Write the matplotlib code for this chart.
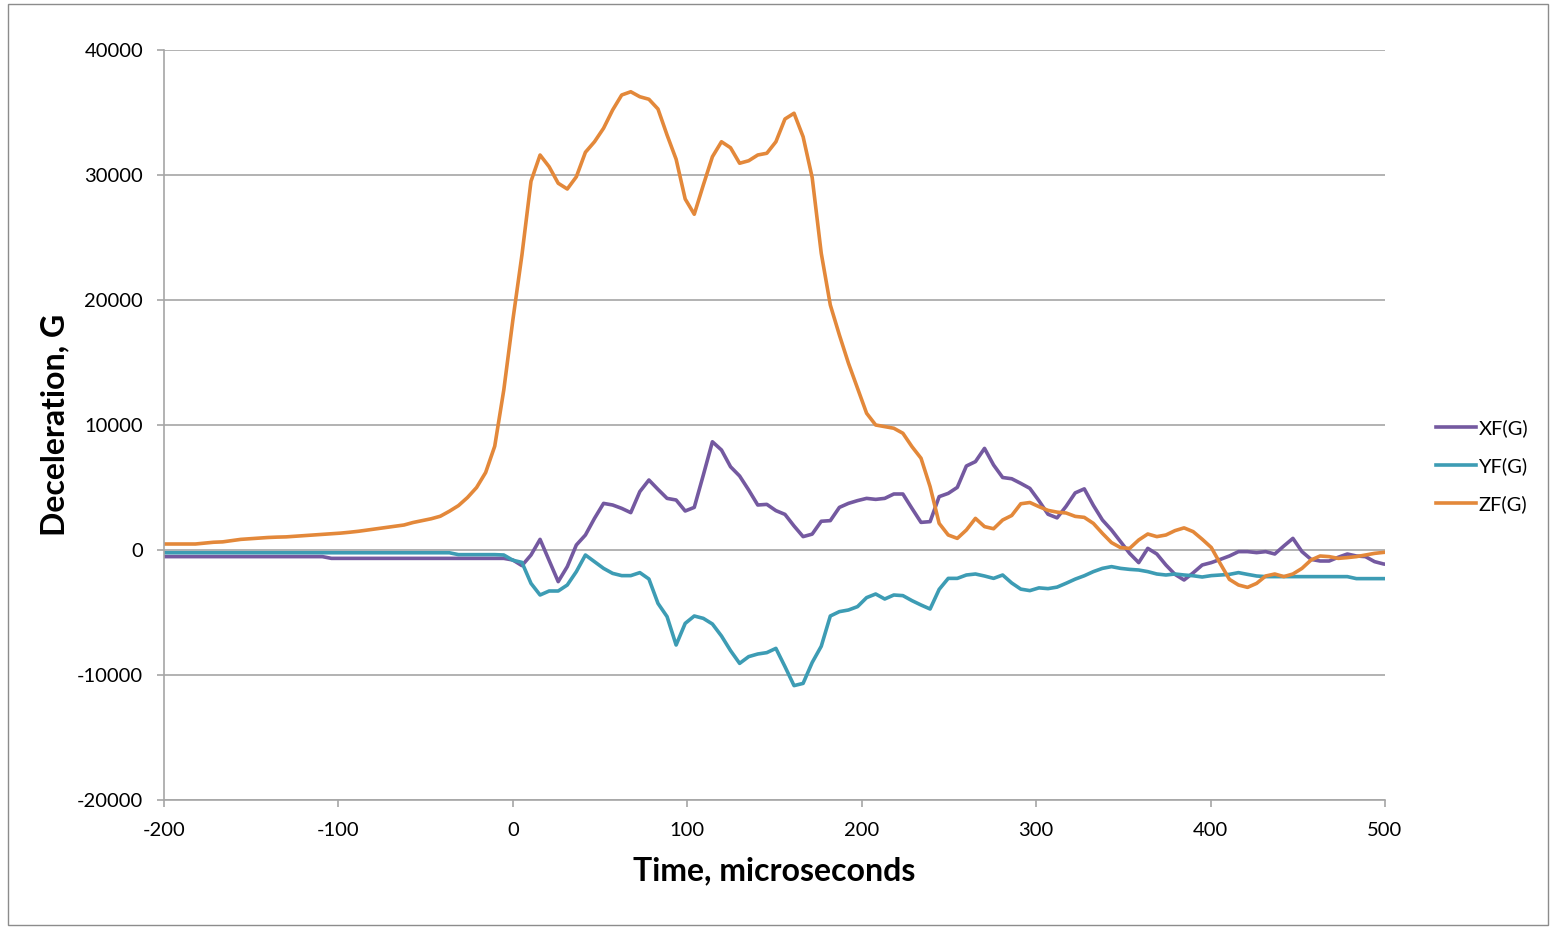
import numpy as np
import matplotlib
matplotlib.use("Agg")
import matplotlib.pyplot as plt
from matplotlib.patches import Rectangle

plt.rcParams["font.family"] = ["Lato", "DejaVu Sans"]
plt.rcParams["axes.unicode_minus"] = False

# Sample index -> time base of the accelerometer record (5.2 us per sample)
SAMPLE_INDEX = np.arange(-39, 98)
SAMPLE_US = 5.2
TIME_US = SAMPLE_INDEX * SAMPLE_US

XF_G = [
    -530, -530, -530, -530, -530, -530, -530, -530, -530, -530,
    -530, -530, -530, -530, -530, -530, -530, -530, -530, -670,
    -670, -670, -670, -670, -670, -670, -670, -670, -670, -670,
    -670, -670, -670, -670, -670, -670, -670, -670, -670,
    # t >= 0
    -800, -1250, -400, 850, -850, -2530, -1330, 400, 1200, 2530,
    3730, 3600, 3330, 2990, 4670, 5600, 4850, 4130, 4000, 3120,
    3410, 6000, 8660, 8000, 6660, 5920, 4800, 3600, 3650, 3150,
    2850, 1920, 1070, 1270, 2300, 2350, 3410, 3730, 3950, 4130,
    4050, 4130, 4480, 4480, 3330, 2210, 2270, 4270, 4530, 5010,
    6720, 7070, 8130, 6800, 5800, 5700, 5330, 4930, 3940, 2860,
    2570, 3500, 4570, 4890, 3570, 2400, 1600, 670, -270, -1010,
    130, -320, -1200, -1950, -2400, -1830, -1200, -1010, -750, -480,
    -130, -130, -210, -130, -320, 320, 930, -130, -750, -880,
    -880, -580, -320, -480, -530, -930, -1120, -1200,
]

YF_G = [
    -220, -220, -220, -220, -220, -220, -220, -220, -220, -220,
    -220, -220, -220, -220, -220, -220, -220, -220, -220, -220,
    -220, -220, -220, -220, -220, -220, -220, -220, -220, -220,
    -220, -220, -220, -370, -370, -370, -370, -370, -400,
    # t >= 0
    -820, -990, -2670, -3600, -3280, -3280, -2800, -1730, -400, -930,
    -1470, -1870, -2050, -2050, -1810, -2320, -4270, -5330, -7600, -5870,
    -5280, -5470, -5920, -6880, -8050, -9070, -8530, -8320, -8210, -7870,
    -9330, -10850, -10670, -9000, -7700, -5280, -4930, -4800, -4530, -3810,
    -3520, -3920, -3600, -3650, -4050, -4400, -4720, -3150, -2270, -2270,
    -2000, -1920, -2080, -2270, -2000, -2640, -3130, -3250, -3030, -3090,
    -2970, -2660, -2330, -2060, -1730, -1470, -1330, -1470, -1550, -1600,
    -1730, -1920, -2000, -1920, -2000, -2060, -2160, -2050, -2000, -1950,
    -1810, -1950, -2080, -2130, -2130, -2130, -2130, -2130, -2130, -2130,
    -2130, -2130, -2130, -2290, -2290, -2290, -2290, -2290,
]

ZF_G = [
    480, 480, 480, 480, 480, 550, 620, 650, 750, 850,
    900, 950, 1000, 1030, 1050, 1100, 1150, 1200, 1250, 1300,
    1350, 1420, 1500, 1600, 1700, 1800, 1900, 2000, 2200, 2350,
    2500, 2700, 3100, 3550, 4200, 5000, 6200, 8300, 12800,
    # t >= 0
    18400, 23600, 29500, 31600, 30660, 29340, 28880, 29860, 31820, 32660,
    33740, 35200, 36400, 36660, 36260, 36060, 35280, 33200, 31260, 28080,
    26860, 29200, 31460, 32660, 32180, 30940, 31140, 31600, 31740, 32660,
    34480, 34940, 33060, 29800, 23740, 19600, 17200, 14940, 12940, 10940,
    10000, 9870, 9740, 9340, 8270, 7340, 5070, 2130, 1200, 930,
    1600, 2530, 1870, 1700, 2400, 2760, 3700, 3800, 3470, 3170,
    3030, 2960, 2690, 2610, 2130, 1330, 590, 190, 130, 800,
    1280, 1070, 1200, 1550, 1770, 1470, 860, 200, -1100, -2350,
    -2800, -2990, -2670, -2080, -1920, -2130, -1920, -1470, -800, -480,
    -530, -670, -610, -530, -400, -270, -190, -130,
]

SERIES = [
    ("XF(G)", XF_G, "#7459a0"),
    ("YF(G)", YF_G, "#3d9cb4"),
    ("ZF(G)", ZF_G, "#e3883a"),
]

X_TICKS = [-200, -100, 0, 100, 200, 300, 400, 500]
Y_TICKS = [-20000, -10000, 0, 10000, 20000, 30000, 40000]

GRID_GRAY = "#a6a6a6"

fig = plt.figure(figsize=(15.52, 9.27), dpi=100)
ax = fig.add_axes([164 / 1552, 1 - 800 / 927, 1221 / 1552, 750 / 927])

for name, values, color in SERIES:
    ax.plot(TIME_US, values, color=color, lw=2.6, label=name,
            solid_joinstyle="round")

ax.set_xlim(-200, 500)
ax.set_ylim(-20000, 40000)
ax.set_xticks(X_TICKS)
ax.set_yticks(Y_TICKS)
ax.yaxis.grid(True, color=GRID_GRAY, lw=1.2)
ax.set_axisbelow(True)

for side in ("top", "right"):
    ax.spines[side].set_visible(False)
for side in ("left", "bottom"):
    ax.spines[side].set_color(GRID_GRAY)
    ax.spines[side].set_linewidth(1.2)

ax.tick_params(axis="both", direction="out", color=GRID_GRAY, width=1.2,
               length=5, labelsize=14.5, labelcolor="black")
ax.tick_params(axis="y", pad=10)
ax.tick_params(axis="x", pad=11)

ax.set_xlabel("Time, microseconds", fontsize=23, fontweight="bold")
ax.xaxis.set_label_coords(0.5, (800 - 871) / 750)
ax.xaxis.label.set_verticalalignment("center")
ax.set_ylabel("Deceleration, G", fontsize=23, fontweight="bold")
ax.yaxis.set_label_coords((55 - 164) / 1221, 0.5)
ax.yaxis.label.set_verticalalignment("center")

fig.legend(loc="center left", bbox_to_anchor=(1418 / 1552, 1 - 466 / 927),
           frameon=False, fontsize=14.5, handlelength=2.0, handletextpad=0.1,
           labelspacing=1.0)

# thin chart-area border
fig.patches.append(Rectangle((8 / 1552, 2 / 927), 1540 / 1552, 921 / 927,
                             transform=fig.transFigure, fill=False,
                             edgecolor="#8c8c8c", lw=1.0))

fig.savefig("out.png", dpi=100)
